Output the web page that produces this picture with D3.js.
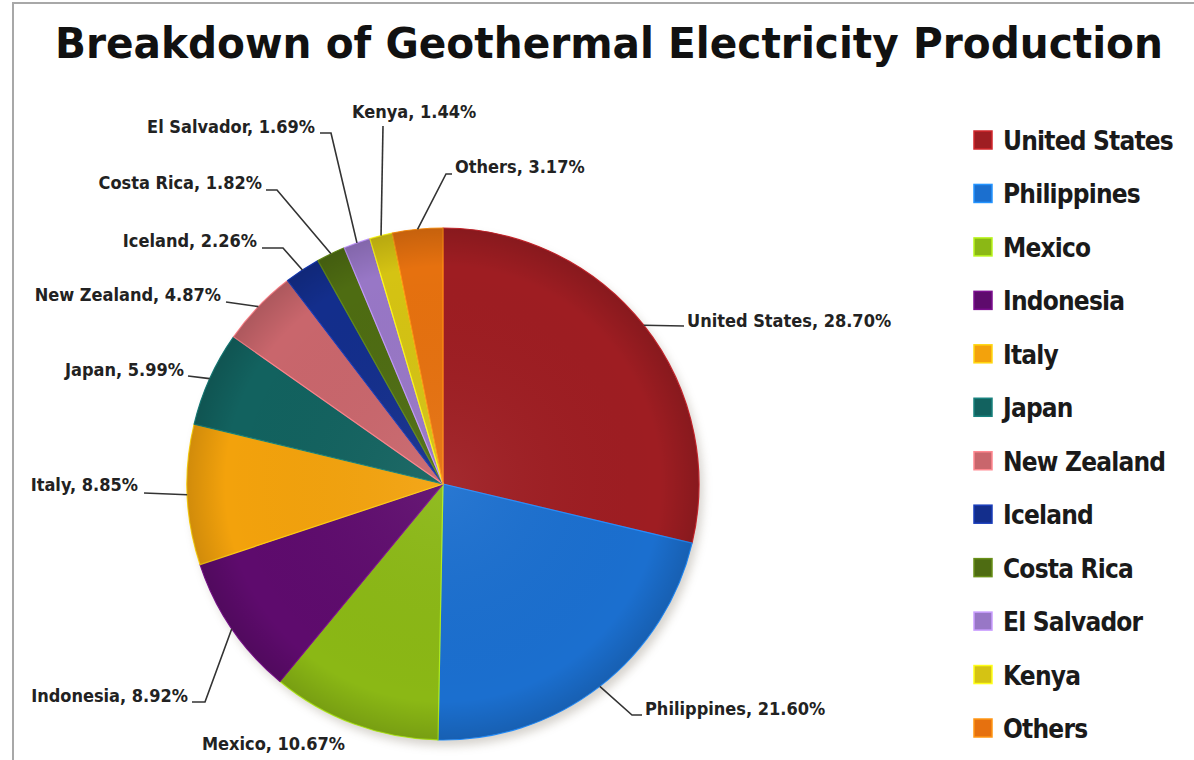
<!DOCTYPE html>
<html>
<head>
<meta charset="utf-8">
<script src="https://cdn.jsdelivr.net/npm/d3@7"></script>
<style>
  body { margin: 0; background: #fff; }
  svg text {
    font-family: "DejaVu Sans Condensed", "DejaVu Sans", sans-serif;
    font-stretch: condensed;
    font-weight: bold;
  }
</style>
</head>
<body>
<div id="chart"></div>
<script>
/* global d3 */

// Data
const countries = ['United States', 'Philippines', 'Mexico', 'Indonesia', 'Italy', 'Japan',
  'New Zealand', 'Iceland', 'Costa Rica', 'El Salvador', 'Kenya', 'Others']
const shares = [28.70, 21.60, 10.67, 8.92, 8.85, 5.99, 4.87, 2.26, 1.82, 1.69, 1.44, 3.17]
const title = 'Breakdown of Geothermal Electricity Production'

// Styles
const palette = ['#9e1d22', '#1b6fcf', '#8bb815', '#5e0b6d', '#f3a20c', '#12625f',
  '#c9666c', '#132e8c', '#4e6c12', '#9877c6', '#d5c313', '#e6710f']

// where each label sits and how its leader bends
const labelSpots = [
  { x: 687, y: 327, anchor: 'start', to: [684, 326] },
  { x: 645, y: 715, anchor: 'start', elbow: [632, 715], to: [642, 715] },
  { x: 345, y: 750, anchor: 'end' },
  { x: 188, y: 702, anchor: 'end', elbow: [205, 702], to: [192, 702] },
  { x: 138, y: 491, anchor: 'end', to: [144, 493] },
  { x: 184, y: 376, anchor: 'end', to: [188, 376] },
  { x: 221, y: 301, anchor: 'end', to: [226, 302] },
  { x: 257, y: 247, anchor: 'end', elbow: [283, 248], to: [262, 248] },
  { x: 262, y: 189, anchor: 'end', elbow: [277, 190], to: [266, 190] },
  { x: 315, y: 133, anchor: 'end', elbow: [331, 133], to: [320, 133] },
  { x: 352, y: 118, anchor: 'start', to: [383, 126] },
  { x: 455, y: 173, anchor: 'start', elbow: [446, 174], to: [452, 174] }
]

const width = 1194,
  height = 760
const cx = 443,
  cy = 484,
  radius = 256

let svg = d3.select('#chart')
  .append('svg')
  .attr('width', width)
  .attr('height', height)

let defs = svg.append('defs')

defs.append('filter')
  .attr('id', 'blur')
  .append('feGaussianBlur')
  .attr('stdDeviation', 5)

let shade = defs.append('radialGradient')
  .attr('id', 'shade')
  .attr('gradientUnits', 'userSpaceOnUse')
  .attr('cx', 0).attr('cy', 0).attr('r', radius)
shade.append('stop').attr('offset', '0%').attr('stop-color', '#fff').attr('stop-opacity', 0.06)
shade.append('stop').attr('offset', '85%').attr('stop-color', '#000').attr('stop-opacity', 0)
shade.append('stop').attr('offset', '100%').attr('stop-color', '#000').attr('stop-opacity', 0.14)

// frame (only the left and top edges show)
svg.append('path')
  .attr('d', `M13,${height}V3H${width}`)
  .attr('fill', 'none')
  .attr('stroke', '#a8a8a8')
  .attr('stroke-width', 2)

// title
svg.append('text')
  .attr('x', 55)
  .attr('y', 58)
  .attr('textLength', 1108)
  .attr('lengthAdjust', 'spacingAndGlyphs')
  .style('font-size', '42px')
  .attr('fill', '#111')
  .text(title)

// pie
const pie = d3.pie().sort(null).value(d => d)
const arcs = pie(shares)

const arc = d3.arc().innerRadius(0).outerRadius(radius)
const rim = d3.arc().innerRadius(radius).outerRadius(radius)

let g = svg.append('g')
  .attr('transform', `translate(${cx}, ${cy})`)

g.append('circle')
  .attr('cx', 4).attr('cy', 6)
  .attr('r', radius)
  .attr('fill', '#8a8070')
  .attr('opacity', 0.35)
  .attr('filter', 'url(#blur)')

g.selectAll('path.slice')
  .data(arcs)
  .enter()
  .append('path')
  .attr('class', 'slice')
  .attr('d', arc)
  .attr('fill', (d, i) => palette[i])
  .attr('stroke', (d, i) => d3.color(palette[i]).brighter(0.7))
  .attr('stroke-width', 1.2)
  .attr('stroke-linejoin', 'round')

g.selectAll('path.shade')
  .data(arcs)
  .enter()
  .append('path')
  .attr('class', 'shade')
  .attr('d', arc)
  .attr('fill', 'url(#shade)')

// leaders and labels
const fmt = d3.format('.2f')

let labels = svg.append('g')

arcs.forEach((d, i) => {
  const spot = labelSpots[i]
  if (spot.to) {
    const p = rim.centroid(d)
    const pts = [[p[0] + cx, p[1] + cy]]
    if (spot.elbow) pts.push(spot.elbow)
    pts.push(spot.to)
    labels.append('path')
      .attr('d', d3.line()(pts))
      .attr('fill', 'none')
      .attr('stroke', '#333')
      .attr('stroke-width', 1.6)
  }
  labels.append('text')
    .attr('x', spot.x)
    .attr('y', spot.y)
    .attr('text-anchor', spot.anchor)
    .style('font-size', '18px')
    .attr('fill', '#222')
    .text(`${countries[i]}, ${fmt(shares[i])}%`)
})

// legend
const legendY = d3.scalePoint()
  .domain(countries)
  .range([140, 728])

let legend = svg.append('g')
  .selectAll('g')
  .data(countries)
  .enter()
  .append('g')
  .attr('transform', d => `translate(974, ${legendY(d)})`)

legend.append('rect')
  .attr('x', 0).attr('y', -9)
  .attr('width', 18).attr('height', 18)
  .attr('fill', (d, i) => palette[i])
  .attr('stroke', (d, i) => d3.color(palette[i]).brighter(0.8))
  .attr('stroke-width', 1.5)

legend.append('text')
  .attr('x', 29)
  .attr('y', 10)
  .style('font-size', '26px')
  .style('letter-spacing', '-0.8px')
  .attr('fill', '#1a1a1a')
  .text(d => d)
</script>
</body>
</html>
